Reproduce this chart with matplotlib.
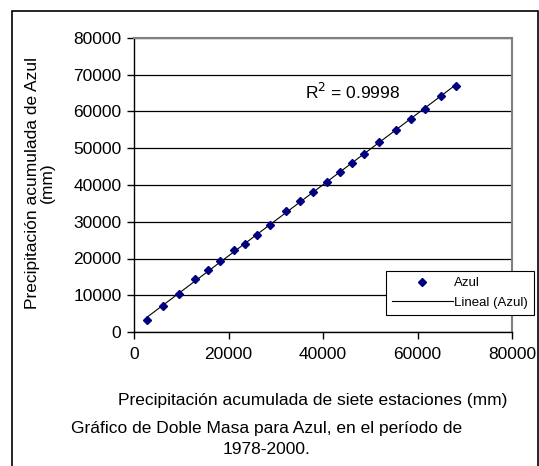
import numpy as np
import matplotlib.pyplot as plt
from matplotlib.patches import Rectangle

plt.rcParams['font.family'] = ['Liberation Sans', 'DejaVu Sans']

# cumulative precipitation, 1978-2000 (mm)
siete = [2820, 6070, 9520, 12980, 15730, 18130, 21160, 23490, 26030, 28710, 32090,
         35200, 37950, 40770, 43520, 46060, 48600, 51910, 55440, 58610, 61650,
         64960, 68140]
azul = [3170, 6970, 10330, 14310, 16850, 19200, 22280, 24000, 26450, 29160, 32790,
        35590, 38220, 40850, 43560, 45920, 48450, 51800, 54980, 57960, 60770,
        64120, 67020]
r2_text = 'R$^2$ = 0.9998'

x = np.array(siete)
y = np.array(azul)
m, b = np.polyfit(x, y, 1)

fig = plt.figure(figsize=(5.39, 4.66), dpi=100)
ax = fig.add_axes([134/539, 1 - 332/466, 378/539, 294/466])

ax.grid(axis='y', color='black', linewidth=0.9)
ax.set_axisbelow(True)
ax.plot(x, y, 'D', color='#000080', markersize=4.5, label='Azul', zorder=3)
xx = np.array([x.min(), x.max()])
ax.plot(xx, m * xx + b, color='black', linewidth=0.8, label='Lineal (Azul)', zorder=2)

ax.set_xlim(0, 80000)
ax.set_ylim(0, 80000)
ax.set_xticks(range(0, 80001, 20000))
ax.set_yticks(range(0, 80001, 10000))
ax.tick_params(direction='out', length=5, width=1, labelsize=12.5, pad=4)
ax.tick_params(axis='x', pad=6)

for s in ['top', 'right']:
    ax.spines[s].set_color('#808080')
    ax.spines[s].set_linewidth(1.5)
for s in ['left', 'bottom']:
    ax.spines[s].set_color('black')
    ax.spines[s].set_linewidth(1)

ax.text(353/539, 1 - 92/466, r2_text, transform=fig.transFigure, fontsize=12.5,
        ha='center', va='center')

leg = ax.legend(loc='upper left', bbox_to_anchor=(386/539, 1 - 271/466),
                bbox_transform=fig.transFigure, fontsize=9.5, frameon=True,
                fancybox=False, edgecolor='black', framealpha=1,
                handlelength=4.6, handletextpad=0.1, borderpad=0.45,
                labelspacing=0.55, borderaxespad=0)
leg.get_frame().set_linewidth(0.8)

fig.text(313/539, 1 - 400/466,
         'Precipitación acumulada de siete estaciones (mm)',
         fontsize=12.5, ha='center', va='center')
fig.text(40/539, 1 - 183/466, 'Precipitación acumulada de Azul\n(mm)',
         rotation=90, fontsize=12.5, ha='center', va='center', linespacing=1.05)
fig.text(267/539, 1 - 439/466,
         'Gráfico de Doble Masa para Azul, en el período de\n1978-2000.',
         fontsize=12.5, ha='center', va='center', linespacing=1.5)

fig.patches.append(Rectangle((12.5/539, -0.05), 525/539, 1.05 - 10.5/466,
                             transform=fig.transFigure, fill=False,
                             edgecolor='black', linewidth=1.2))

fig.savefig('out.png', dpi=100)
